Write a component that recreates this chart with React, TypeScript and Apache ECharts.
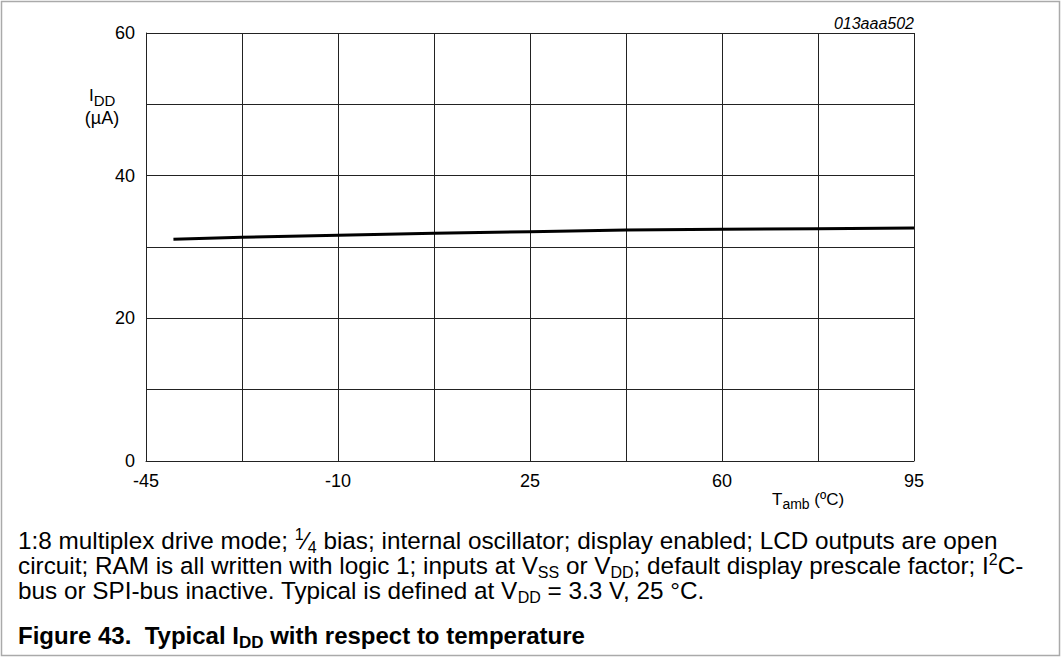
import React, { useEffect, useRef } from "react";
import * as echarts from "echarts";

const xGridTicks = [-45, -27.5, -10, 7.5, 25, 42.5, 60, 77.5, 95];
const xLabelTicks = [-45, -10, 25, 60, 95];
const yLabelTicks = [0, 20, 40, 60];
const tempC = [-40, -27.5, -10, 7.5, 25, 42.5, 60, 77.5, 95];
const iddUA = [31.1, 31.36, 31.65, 31.92, 32.15, 32.37, 32.48, 32.57, 32.67];

const FONT = "'Liberation Sans', Arial, sans-serif";

const noteLines = [
  "{n|1:8 multiplex drive mode; }{sup|1}{n|⁄}{sub|4}{n| bias; internal oscillator; display enabled; LCD outputs are open}",
  "{n|circuit; RAM is all written with logic 1; inputs at V}{sub|SS}{n| or V}{sub|DD}{n|; default display prescale factor; I}{sup|2}{n|C-}",
  "{n|bus or SPI-bus inactive. Typical is defined at V}{sub|DD}{n| = 3.3 V, 25 °C.}",
];

export default function App() {
  const ref = useRef<HTMLDivElement>(null);
  useEffect(() => {
    document.body.style.margin = "0";
    if (!ref.current) return;
    const chart = echarts.init(ref.current, undefined, { renderer: "svg" });
    const noteRich = {
      n: { fontSize: 24.3, fontFamily: FONT, color: "#000" },
      sub: { fontSize: 16, fontFamily: FONT, color: "#000", padding: [14, 0, 0, 0] },
      sup: { fontSize: 16, fontFamily: FONT, color: "#000", padding: [0, 0, 11, 0] },
    };
    const lineY = [540, 565, 590];
    chart.setOption({
      animation: false,
      backgroundColor: "#fff",
      grid: { left: 146, top: 33, right: 147, bottom: 196, containLabel: false },
      xAxis: {
        type: "value",
        min: -45,
        max: 95,
        axisLine: { show: true, onZero: false, lineStyle: { color: "#222", width: 1 } },
        axisTick: { show: false, customValues: xGridTicks },
        splitLine: { show: true, lineStyle: { color: "#222", width: 1 } },
        axisLabel: {
          customValues: xLabelTicks,
          margin: 11,
          fontSize: 18,
          fontFamily: FONT,
          color: "#000",
        },
      },
      yAxis: {
        type: "value",
        min: 0,
        max: 60,
        interval: 10,
        axisLine: { show: true, onZero: false, lineStyle: { color: "#222", width: 1 } },
        axisTick: { show: false },
        splitLine: { show: true, lineStyle: { color: "#222", width: 1 } },
        axisLabel: {
          customValues: yLabelTicks,
          margin: 11,
          fontSize: 18,
          fontFamily: FONT,
          color: "#000",
        },
      },
      series: [
        {
          type: "line",
          data: tempC.map((t, i) => [t, iddUA[i]]),
          showSymbol: false,
          symbol: "none",
          lineStyle: { color: "#000", width: 3 },
        },
      ],
      graphic: [
        {
          type: "rect",
          shape: { x: 1.5, y: 1.5, width: 1058, height: 654 },
          style: { fill: "none", stroke: "#aaa", lineWidth: 1.5 },
          silent: true,
        },
        {
          type: "text",
          x: 914,
          y: 23,
          style: {
            text: "013aaa502",
            fontSize: 16,
            fontStyle: "italic",
            fontFamily: FONT,
            fill: "#000",
            textAlign: "right",
            textVerticalAlign: "middle",
          },
        },
        {
          type: "text",
          x: 89,
          y: 95,
          style: {
            text: "{m|I}{s|DD}",
            textAlign: "left",
            textVerticalAlign: "middle",
            rich: {
              m: { fontSize: 17, fontFamily: FONT, color: "#000" },
              s: { fontSize: 15, fontFamily: FONT, color: "#000", padding: [10, 0, 0, 0] },
            },
          },
        },
        {
          type: "text",
          x: 102,
          y: 118,
          style: {
            text: "(µA)",
            fontSize: 18,
            fontFamily: FONT,
            fill: "#000",
            textAlign: "center",
            textVerticalAlign: "middle",
          },
        },
        {
          type: "text",
          x: 772,
          y: 499,
          style: {
            text: "{m|T}{s|amb}{m| (ºC)}",
            textAlign: "left",
            textVerticalAlign: "middle",
            rich: {
              m: { fontSize: 17, fontFamily: FONT, color: "#000" },
              s: { fontSize: 14, fontFamily: FONT, color: "#000", padding: [10, 0, 0, 0] },
            },
          },
        },
        ...noteLines.map((t, i) => ({
          type: "text",
          x: 18,
          y: lineY[i],
          style: {
            text: t,
            textAlign: "left",
            textVerticalAlign: "middle",
            rich: noteRich,
          },
        })),
        {
          type: "text",
          x: 18,
          y: 635,
          style: {
            text: "{b|Figure 43.  Typical I}{bs|DD}{b| with respect to temperature}",
            textAlign: "left",
            textVerticalAlign: "middle",
            rich: {
              b: { fontSize: 24, fontWeight: "bold", fontFamily: FONT, color: "#444" },
              bs: { fontSize: 17, fontWeight: "bold", fontFamily: FONT, color: "#444", padding: [14, 0, 0, 0] },
            },
          },
        },
      ],
    });
    return () => chart.dispose();
  }, []);
  return <div ref={ref} style={{ width: 1061, height: 657 }} />;
}
